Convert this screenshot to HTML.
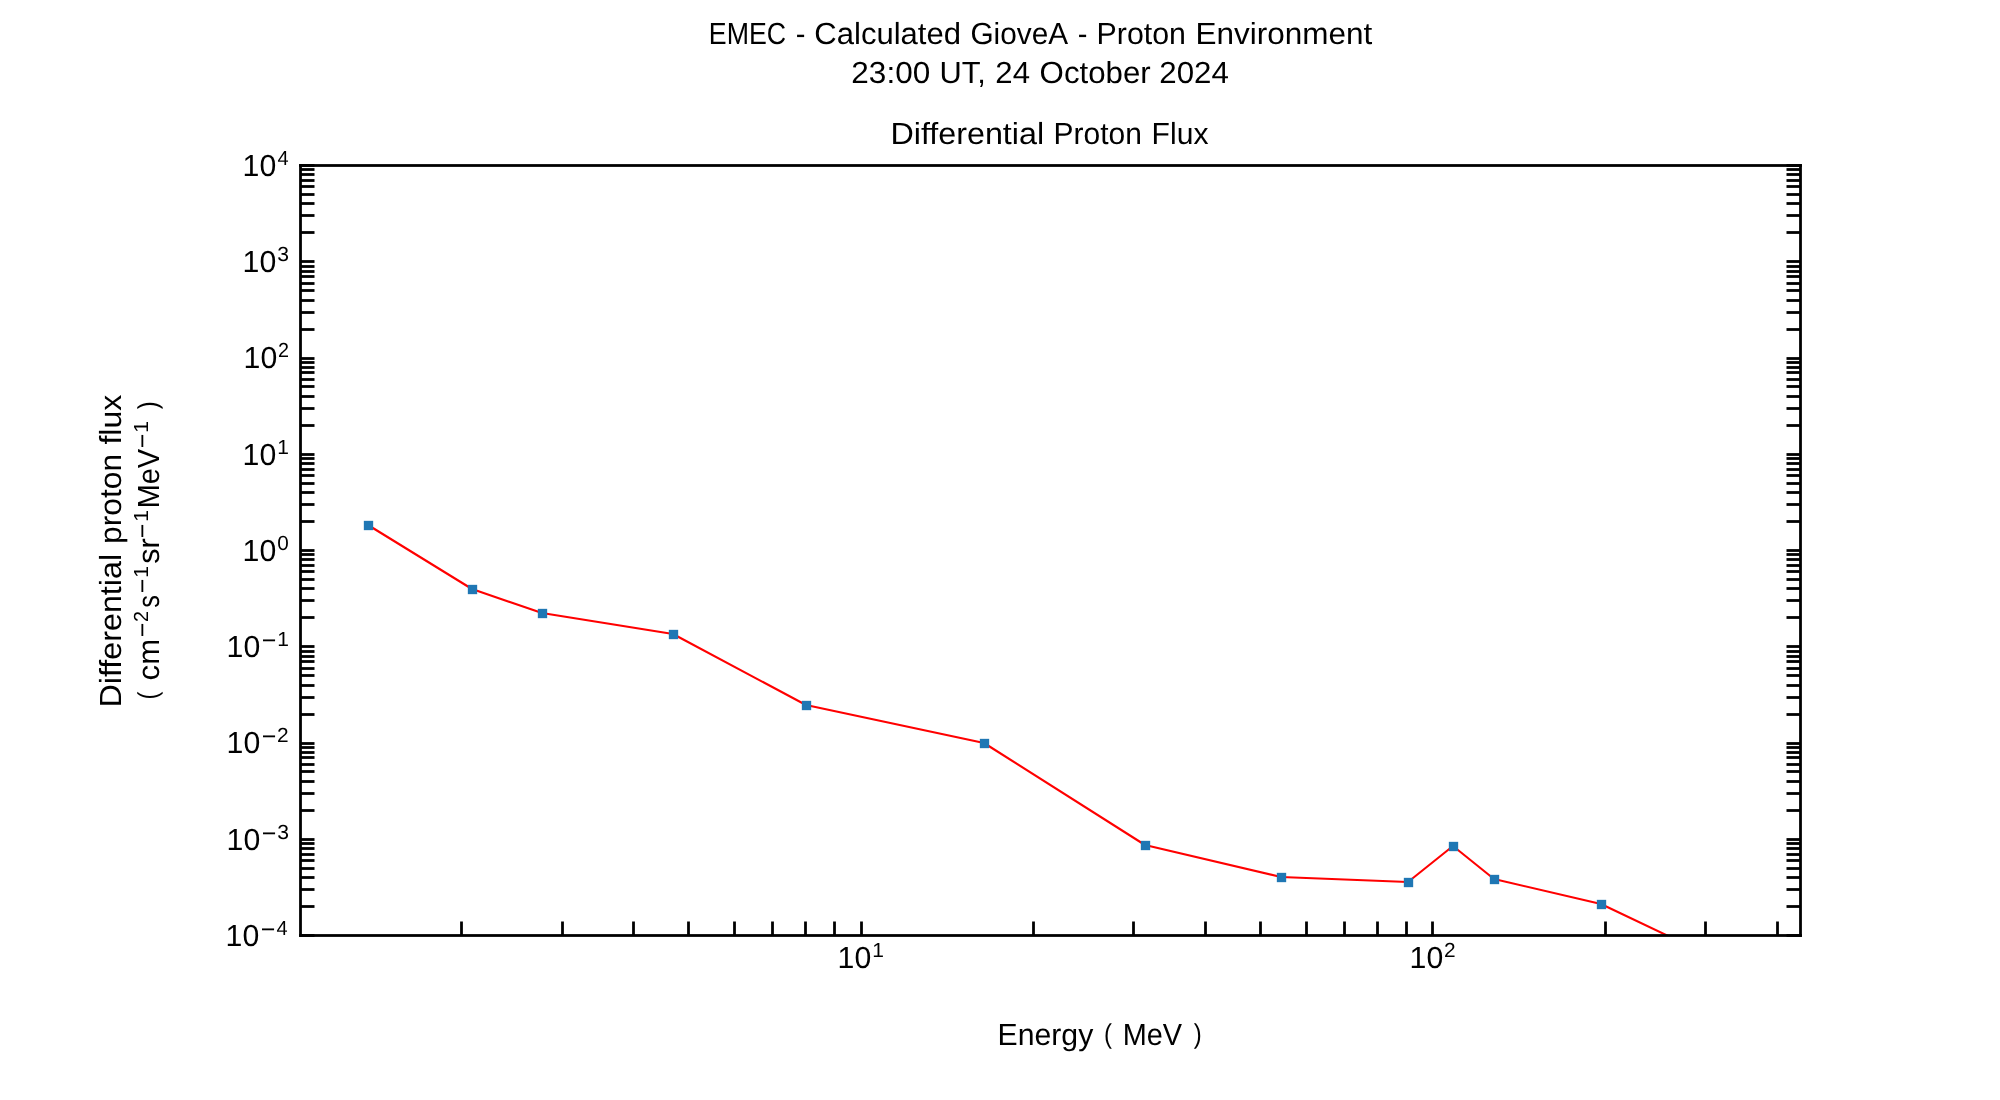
<!DOCTYPE html>
<html lang="en">
<head>
<meta charset="utf-8">
<title>EMEC - Calculated GioveA - Proton Environment</title>
<style>
html,body{margin:0;padding:0;background:#ffffff;}
body{width:2000px;height:1100px;overflow:hidden;}
svg{display:block;will-change:transform;}
text{font-family:"Liberation Sans",sans-serif;fill:#000000;white-space:pre;text-rendering:geometricPrecision;}
</style>
</head>
<body>
<svg width="2000" height="1100" viewBox="0 0 2000 1100" role="img">
<rect width="2000" height="1100" fill="#ffffff"/>
<g id="plot">
<clipPath id="axclip"><rect x="300" y="165" width="1500" height="770"/></clipPath>
<polyline id="series-line" clip-path="url(#axclip)" fill="none" stroke="#ff0000" stroke-width="2.08" stroke-linejoin="round" points="368,525 472,589 542,613 673,634 806,705 984,743 1145,845 1281,877 1408,882 1453,846 1494,879 1601,904 1731.3,966"/>
<g id="series-markers" fill="#1f77b4"><rect x="363.833" y="520.833" width="9.333" height="9.333"/><rect x="467.833" y="584.833" width="9.333" height="9.333"/><rect x="537.833" y="608.833" width="9.333" height="9.333"/><rect x="668.833" y="629.833" width="9.333" height="9.333"/><rect x="801.833" y="700.833" width="9.333" height="9.333"/><rect x="979.833" y="738.833" width="9.333" height="9.333"/><rect x="1140.833" y="840.833" width="9.333" height="9.333"/><rect x="1276.833" y="872.833" width="9.333" height="9.333"/><rect x="1403.833" y="877.833" width="9.333" height="9.333"/><rect x="1448.833" y="841.833" width="9.333" height="9.333"/><rect x="1489.833" y="874.833" width="9.333" height="9.333"/><rect x="1596.833" y="899.833" width="9.333" height="9.333"/></g>
<g id="yticks" fill="#000000"><rect x="300.5" y="934.11" width="14" height="2.78"/><rect x="1786.5" y="934.11" width="14" height="2.78"/><rect x="300.5" y="905.11" width="14" height="2.78"/><rect x="1786.5" y="905.11" width="14" height="2.78"/><rect x="300.5" y="888.11" width="14" height="2.78"/><rect x="1786.5" y="888.11" width="14" height="2.78"/><rect x="300.5" y="876.11" width="14" height="2.78"/><rect x="1786.5" y="876.11" width="14" height="2.78"/><rect x="300.5" y="867.11" width="14" height="2.78"/><rect x="1786.5" y="867.11" width="14" height="2.78"/><rect x="300.5" y="859.11" width="14" height="2.78"/><rect x="1786.5" y="859.11" width="14" height="2.78"/><rect x="300.5" y="853.11" width="14" height="2.78"/><rect x="1786.5" y="853.11" width="14" height="2.78"/><rect x="300.5" y="847.11" width="14" height="2.78"/><rect x="1786.5" y="847.11" width="14" height="2.78"/><rect x="300.5" y="842.11" width="14" height="2.78"/><rect x="1786.5" y="842.11" width="14" height="2.78"/><rect x="300.5" y="838.11" width="14" height="2.78"/><rect x="1786.5" y="838.11" width="14" height="2.78"/><rect x="300.5" y="809.11" width="14" height="2.78"/><rect x="1786.5" y="809.11" width="14" height="2.78"/><rect x="300.5" y="792.11" width="14" height="2.78"/><rect x="1786.5" y="792.11" width="14" height="2.78"/><rect x="300.5" y="780.11" width="14" height="2.78"/><rect x="1786.5" y="780.11" width="14" height="2.78"/><rect x="300.5" y="770.11" width="14" height="2.78"/><rect x="1786.5" y="770.11" width="14" height="2.78"/><rect x="300.5" y="763.11" width="14" height="2.78"/><rect x="1786.5" y="763.11" width="14" height="2.78"/><rect x="300.5" y="756.11" width="14" height="2.78"/><rect x="1786.5" y="756.11" width="14" height="2.78"/><rect x="300.5" y="751.11" width="14" height="2.78"/><rect x="1786.5" y="751.11" width="14" height="2.78"/><rect x="300.5" y="746.11" width="14" height="2.78"/><rect x="1786.5" y="746.11" width="14" height="2.78"/><rect x="300.5" y="742.11" width="14" height="2.78"/><rect x="1786.5" y="742.11" width="14" height="2.78"/><rect x="300.5" y="713.11" width="14" height="2.78"/><rect x="1786.5" y="713.11" width="14" height="2.78"/><rect x="300.5" y="696.11" width="14" height="2.78"/><rect x="1786.5" y="696.11" width="14" height="2.78"/><rect x="300.5" y="684.11" width="14" height="2.78"/><rect x="1786.5" y="684.11" width="14" height="2.78"/><rect x="300.5" y="674.11" width="14" height="2.78"/><rect x="1786.5" y="674.11" width="14" height="2.78"/><rect x="300.5" y="667.11" width="14" height="2.78"/><rect x="1786.5" y="667.11" width="14" height="2.78"/><rect x="300.5" y="660.11" width="14" height="2.78"/><rect x="1786.5" y="660.11" width="14" height="2.78"/><rect x="300.5" y="655.11" width="14" height="2.78"/><rect x="1786.5" y="655.11" width="14" height="2.78"/><rect x="300.5" y="650.11" width="14" height="2.78"/><rect x="1786.5" y="650.11" width="14" height="2.78"/><rect x="300.5" y="645.11" width="14" height="2.78"/><rect x="1786.5" y="645.11" width="14" height="2.78"/><rect x="300.5" y="616.11" width="14" height="2.78"/><rect x="1786.5" y="616.11" width="14" height="2.78"/><rect x="300.5" y="599.11" width="14" height="2.78"/><rect x="1786.5" y="599.11" width="14" height="2.78"/><rect x="300.5" y="587.11" width="14" height="2.78"/><rect x="1786.5" y="587.11" width="14" height="2.78"/><rect x="300.5" y="578.11" width="14" height="2.78"/><rect x="1786.5" y="578.11" width="14" height="2.78"/><rect x="300.5" y="570.11" width="14" height="2.78"/><rect x="1786.5" y="570.11" width="14" height="2.78"/><rect x="300.5" y="564.11" width="14" height="2.78"/><rect x="1786.5" y="564.11" width="14" height="2.78"/><rect x="300.5" y="558.11" width="14" height="2.78"/><rect x="1786.5" y="558.11" width="14" height="2.78"/><rect x="300.5" y="553.11" width="14" height="2.78"/><rect x="1786.5" y="553.11" width="14" height="2.78"/><rect x="300.5" y="549.11" width="14" height="2.78"/><rect x="1786.5" y="549.11" width="14" height="2.78"/><rect x="300.5" y="520.11" width="14" height="2.78"/><rect x="1786.5" y="520.11" width="14" height="2.78"/><rect x="300.5" y="503.11" width="14" height="2.78"/><rect x="1786.5" y="503.11" width="14" height="2.78"/><rect x="300.5" y="491.11" width="14" height="2.78"/><rect x="1786.5" y="491.11" width="14" height="2.78"/><rect x="300.5" y="482.11" width="14" height="2.78"/><rect x="1786.5" y="482.11" width="14" height="2.78"/><rect x="300.5" y="474.11" width="14" height="2.78"/><rect x="1786.5" y="474.11" width="14" height="2.78"/><rect x="300.5" y="468.11" width="14" height="2.78"/><rect x="1786.5" y="468.11" width="14" height="2.78"/><rect x="300.5" y="462.11" width="14" height="2.78"/><rect x="1786.5" y="462.11" width="14" height="2.78"/><rect x="300.5" y="457.11" width="14" height="2.78"/><rect x="1786.5" y="457.11" width="14" height="2.78"/><rect x="300.5" y="453.11" width="14" height="2.78"/><rect x="1786.5" y="453.11" width="14" height="2.78"/><rect x="300.5" y="424.11" width="14" height="2.78"/><rect x="1786.5" y="424.11" width="14" height="2.78"/><rect x="300.5" y="407.11" width="14" height="2.78"/><rect x="1786.5" y="407.11" width="14" height="2.78"/><rect x="300.5" y="395.11" width="14" height="2.78"/><rect x="1786.5" y="395.11" width="14" height="2.78"/><rect x="300.5" y="385.11" width="14" height="2.78"/><rect x="1786.5" y="385.11" width="14" height="2.78"/><rect x="300.5" y="378.11" width="14" height="2.78"/><rect x="1786.5" y="378.11" width="14" height="2.78"/><rect x="300.5" y="371.11" width="14" height="2.78"/><rect x="1786.5" y="371.11" width="14" height="2.78"/><rect x="300.5" y="366.11" width="14" height="2.78"/><rect x="1786.5" y="366.11" width="14" height="2.78"/><rect x="300.5" y="361.11" width="14" height="2.78"/><rect x="1786.5" y="361.11" width="14" height="2.78"/><rect x="300.5" y="357.11" width="14" height="2.78"/><rect x="1786.5" y="357.11" width="14" height="2.78"/><rect x="300.5" y="328.11" width="14" height="2.78"/><rect x="1786.5" y="328.11" width="14" height="2.78"/><rect x="300.5" y="311.11" width="14" height="2.78"/><rect x="1786.5" y="311.11" width="14" height="2.78"/><rect x="300.5" y="299.11" width="14" height="2.78"/><rect x="1786.5" y="299.11" width="14" height="2.78"/><rect x="300.5" y="289.11" width="14" height="2.78"/><rect x="1786.5" y="289.11" width="14" height="2.78"/><rect x="300.5" y="282.11" width="14" height="2.78"/><rect x="1786.5" y="282.11" width="14" height="2.78"/><rect x="300.5" y="275.11" width="14" height="2.78"/><rect x="1786.5" y="275.11" width="14" height="2.78"/><rect x="300.5" y="270.11" width="14" height="2.78"/><rect x="1786.5" y="270.11" width="14" height="2.78"/><rect x="300.5" y="265.11" width="14" height="2.78"/><rect x="1786.5" y="265.11" width="14" height="2.78"/><rect x="300.5" y="260.11" width="14" height="2.78"/><rect x="1786.5" y="260.11" width="14" height="2.78"/><rect x="300.5" y="231.11" width="14" height="2.78"/><rect x="1786.5" y="231.11" width="14" height="2.78"/><rect x="300.5" y="214.11" width="14" height="2.78"/><rect x="1786.5" y="214.11" width="14" height="2.78"/><rect x="300.5" y="202.11" width="14" height="2.78"/><rect x="1786.5" y="202.11" width="14" height="2.78"/><rect x="300.5" y="193.11" width="14" height="2.78"/><rect x="1786.5" y="193.11" width="14" height="2.78"/><rect x="300.5" y="185.11" width="14" height="2.78"/><rect x="1786.5" y="185.11" width="14" height="2.78"/><rect x="300.5" y="179.11" width="14" height="2.78"/><rect x="1786.5" y="179.11" width="14" height="2.78"/><rect x="300.5" y="173.11" width="14" height="2.78"/><rect x="1786.5" y="173.11" width="14" height="2.78"/><rect x="300.5" y="168.11" width="14" height="2.78"/><rect x="1786.5" y="168.11" width="14" height="2.78"/><rect x="300.5" y="164.11" width="14" height="2.78"/><rect x="1786.5" y="164.11" width="14" height="2.78"/></g>
<g id="xticks" fill="#000000"><rect x="460.11" y="921.5" width="2.78" height="14"/><rect x="561.11" y="921.5" width="2.78" height="14"/><rect x="632.11" y="921.5" width="2.78" height="14"/><rect x="687.11" y="921.5" width="2.78" height="14"/><rect x="733.11" y="921.5" width="2.78" height="14"/><rect x="771.11" y="921.5" width="2.78" height="14"/><rect x="804.11" y="921.5" width="2.78" height="14"/><rect x="833.11" y="921.5" width="2.78" height="14"/><rect x="860.11" y="921.5" width="2.78" height="14"/><rect x="1032.11" y="921.5" width="2.78" height="14"/><rect x="1132.11" y="921.5" width="2.78" height="14"/><rect x="1204.11" y="921.5" width="2.78" height="14"/><rect x="1259.11" y="921.5" width="2.78" height="14"/><rect x="1305.11" y="921.5" width="2.78" height="14"/><rect x="1343.11" y="921.5" width="2.78" height="14"/><rect x="1376.11" y="921.5" width="2.78" height="14"/><rect x="1405.11" y="921.5" width="2.78" height="14"/><rect x="1431.11" y="921.5" width="2.78" height="14"/><rect x="1604.11" y="921.5" width="2.78" height="14"/><rect x="1704.11" y="921.5" width="2.78" height="14"/><rect x="1776.11" y="921.5" width="2.78" height="14"/></g>
<g id="spines" fill="#000000"><rect x="299.11" y="164.11" width="2.78" height="772.78"/><rect x="1799.11" y="164.11" width="2.78" height="772.78"/><rect x="299.11" y="164.11" width="1502.78" height="2.78"/><rect x="299.11" y="934.11" width="1502.78" height="2.78"/></g>
</g>
<g id="labels">
<g id="suptitle1" aria-label="EMEC - Calculated GioveA - Proton Environment"><text transform="translate(708.85,44) scale(0.8766,1)" font-size="30.5">EMEC</text> <text transform="translate(795.70,44) scale(0.9520,1)" font-size="30.5">-</text> <text transform="translate(814.34,44) scale(1.0177,1)" font-size="30.5">Calculated</text> <text transform="translate(970.40,44) scale(0.9765,1)" font-size="30.5">GioveA</text> <text transform="translate(1077.70,44) scale(0.9520,1)" font-size="30.5">-</text> <text transform="translate(1096.56,44) scale(0.9940,1)" font-size="30.5">Proton</text> <text transform="translate(1195.47,44) scale(1.0322,1)" font-size="30.5">Environment</text></g>
<g id="suptitle2" aria-label="23:00 UT, 24 October 2024"><text transform="translate(851.31,83) scale(1.0336,1)" font-size="30.5">23:00</text> <text transform="translate(939.52,83) scale(1.0105,1)" font-size="30.5">UT,</text> <text transform="translate(995.33,83) scale(1.0218,1)" font-size="30.5">24</text> <text transform="translate(1039.61,83) scale(1.0237,1)" font-size="30.5">October</text> <text transform="translate(1159.33,83) scale(1.0251,1)" font-size="30.5">2024</text></g>
<g id="axtitle" aria-label="Differential Proton Flux"><text transform="translate(890.41,144) scale(1.0583,1)" font-size="30.5">Differential</text> <text transform="translate(1053.59,144) scale(0.9824,1)" font-size="30.5">Proton</text> <text transform="translate(1151.58,144) scale(0.9865,1)" font-size="30.5">Flux</text></g>
<g id="xlabel" aria-label="Energy ( MeV )"><text transform="translate(997.57,1045) scale(0.9899,1)" font-size="30.5">Energy</text> <text transform="translate(1103.90,1043.05) scale(0.8739,1)" font-size="27.4">(</text> <text transform="translate(1122.68,1045) scale(0.9471,1)" font-size="30.5">MeV</text> <text transform="translate(1193.69,1043.05) scale(0.8739,1)" font-size="27.4">)</text></g>
<g id="ylabel1" aria-label="Differential proton flux"><text transform="translate(121,707.59) rotate(-90) scale(1.0583,1)" font-size="30.5">Differential</text> <text transform="translate(121,543.99) rotate(-90) scale(1.0423,1)" font-size="30.5">proton</text> <text transform="translate(121,444.57) rotate(-90) scale(1.0522,1)" font-size="30.5">flux</text></g>
<g id="ylabel2" aria-label="( cm^-2 s^-1 sr^-1 MeV^-1 )"><text transform="translate(156.8,699.60) rotate(-90) scale(0.8771,1)" font-size="27.3">(</text> <text transform="translate(159,680.39) rotate(-90) scale(1.0185,1)" font-size="30.5">cm</text> <text transform="translate(150.645,637.33) rotate(-90) scale(0.9573,1)" font-size="26">−</text> <text transform="translate(148,622.06) rotate(-90) scale(0.9712,1)" font-size="20.35">2</text> <text transform="translate(159,607.67) rotate(-90) scale(0.8244,1)" font-size="30.5">s</text> <text transform="translate(150.645,593.33) rotate(-90) scale(0.9573,1)" font-size="26">−</text> <text transform="translate(148,577.69) rotate(-90) scale(1.0319,1)" font-size="20.35">1</text> <text transform="translate(159,563.82) rotate(-90) scale(1.0015,1)" font-size="30.5">sr</text> <text transform="translate(150.645,538.33) rotate(-90) scale(0.9573,1)" font-size="26">−</text> <text transform="translate(148,521.69) rotate(-90) scale(1.0319,1)" font-size="20.35">1</text> <text transform="translate(159,508.32) rotate(-90) scale(0.9471,1)" font-size="30.5">MeV</text> <text transform="translate(150.645,448.33) rotate(-90) scale(0.9573,1)" font-size="26">−</text> <text transform="translate(148,432.69) rotate(-90) scale(1.0319,1)" font-size="20.35">1</text> <text transform="translate(156.8,409.31) rotate(-90) scale(0.8771,1)" font-size="27.3">)</text></g>
<g id="ytick4"><text transform="translate(242.57,176) scale(0.9925,1)" font-size="30.5">10</text> <text transform="translate(277.46,165) scale(0.9828,1)" font-size="20.35">4</text></g>
<g id="ytick3"><text transform="translate(242.57,272) scale(0.9925,1)" font-size="30.5">10</text> <text transform="translate(277.25,261) scale(1.0384,1)" font-size="20.35">3</text></g>
<g id="ytick2"><text transform="translate(243.57,368) scale(0.9925,1)" font-size="30.5">10</text> <text transform="translate(277.94,357) scale(0.9712,1)" font-size="20.35">2</text></g>
<g id="ytick1"><text transform="translate(242.57,465) scale(0.9925,1)" font-size="30.5">10</text> <text transform="translate(277.31,454) scale(1.0319,1)" font-size="20.35">1</text></g>
<g id="ytick0"><text transform="translate(242.57,561) scale(0.9925,1)" font-size="30.5">10</text> <text transform="translate(277.26,550) scale(1.0192,1)" font-size="20.35">0</text></g>
<g id="ytick-1"><text transform="translate(226.57,657) scale(0.9925,1)" font-size="30.5">10</text> <text transform="translate(261.67,648.645) scale(0.9573,1)" font-size="26">−</text> <text transform="translate(277.31,646) scale(1.0319,1)" font-size="20.35">1</text></g>
<g id="ytick-2"><text transform="translate(226.57,753) scale(0.9925,1)" font-size="30.5">10</text> <text transform="translate(261.67,744.645) scale(0.9573,1)" font-size="26">−</text> <text transform="translate(276.88,742) scale(1.0252,1)" font-size="20.35">2</text></g>
<g id="ytick-3"><text transform="translate(226.57,850) scale(0.9925,1)" font-size="30.5">10</text> <text transform="translate(261.67,841.645) scale(0.9573,1)" font-size="26">−</text> <text transform="translate(277.25,839) scale(1.0384,1)" font-size="20.35">3</text></g>
<g id="ytick-4"><text transform="translate(225.57,946) scale(0.9925,1)" font-size="30.5">10</text> <text transform="translate(260.67,937.645) scale(0.9573,1)" font-size="26">−</text> <text transform="translate(276.46,935) scale(0.9828,1)" font-size="20.35">4</text></g>
<g id="xtick1"><text transform="translate(837.57,968) scale(0.9925,1)" font-size="30.5">10</text> <text transform="translate(872.31,957) scale(1.0319,1)" font-size="20.35">1</text></g>
<g id="xtick2"><text transform="translate(1409.57,968) scale(0.9925,1)" font-size="30.5">10</text> <text transform="translate(1443.88,957) scale(1.0252,1)" font-size="20.35">2</text></g>
</g>
</svg>
</body>
</html>
